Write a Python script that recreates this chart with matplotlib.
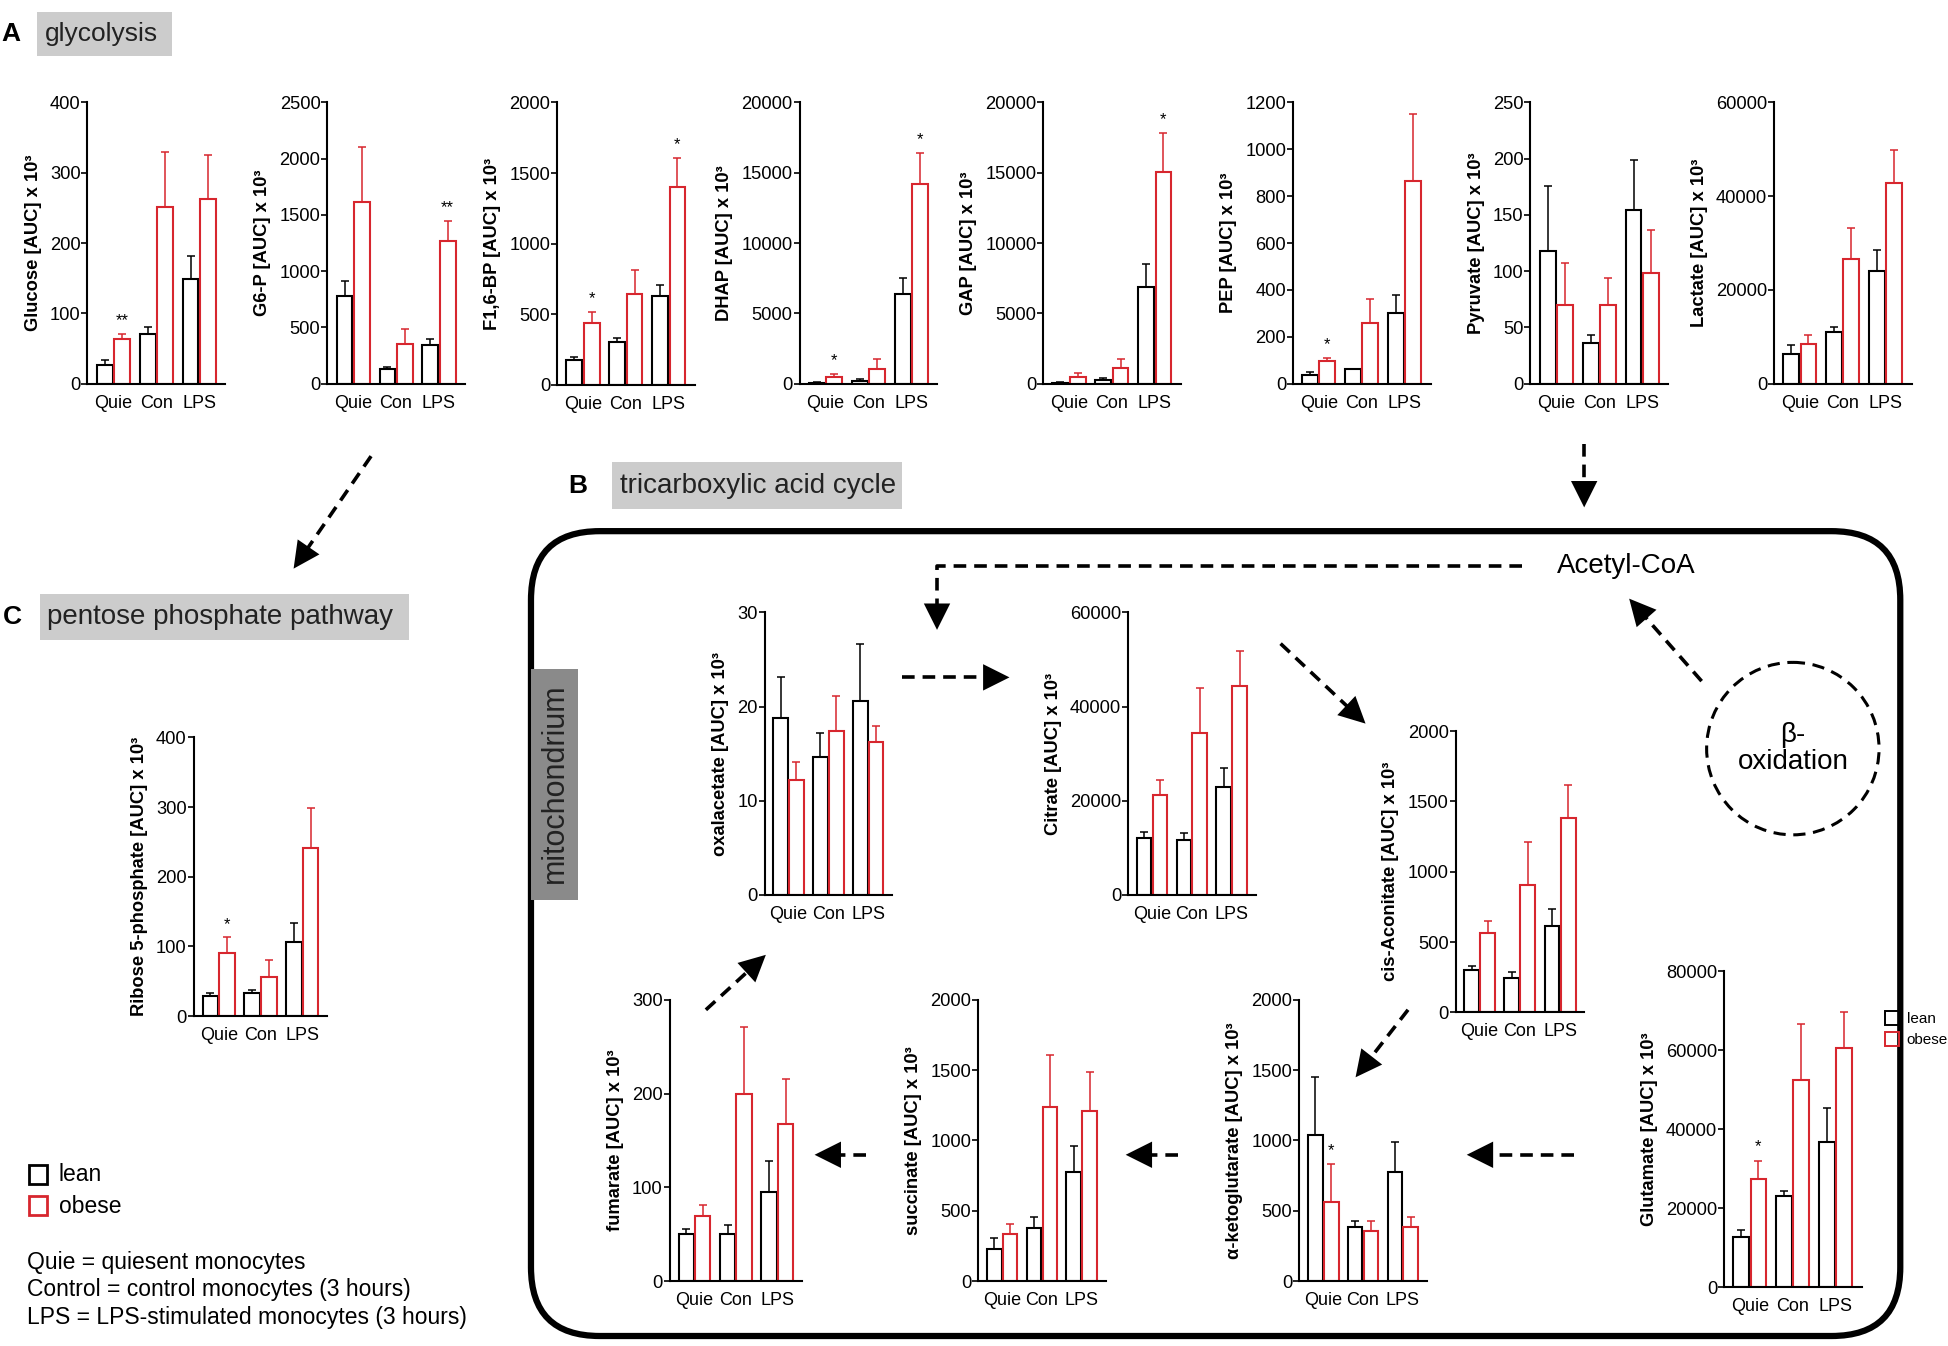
import numpy as np
import matplotlib
matplotlib.use('Agg')
import matplotlib.pyplot as plt
from matplotlib.patches import Rectangle, FancyBboxPatch, Circle, FancyArrowPatch
from matplotlib.lines import Line2D

plt.rcParams['font.family'] = ['Liberation Sans', 'DejaVu Sans']

groups = ['Quie', 'Con', 'LPS']
RED = '#d7262e'

# ---- data (mean, SEM) ----
glucose_lean = [26, 70, 149];        glucose_lean_sem = [8, 11, 32]
glucose_obese = [64, 251, 263];      glucose_obese_sem = [7, 78, 62]
g6p_lean = [778, 133, 346];          g6p_lean_sem = [139, 15, 54]
g6p_obese = [1612, 349, 1266];       g6p_obese_sem = [488, 133, 181]
f16bp_lean = [176, 301, 628];        f16bp_lean_sem = [24, 33, 83]
f16bp_obese = [442, 642, 1405];      f16bp_obese_sem = [76, 174, 204]
dhap_lean = [70, 190, 6358];         dhap_lean_sem = [50, 166, 1139]
dhap_obese = [475, 1068, 14187];     dhap_obese_sem = [237, 711, 2206]
gap_lean = [70, 237, 6880];          gap_lean_sem = [40, 143, 1613]
gap_obese = [498, 1091, 15065];      gap_obese_sem = [285, 688, 2776]
pep_lean = [37, 61, 300];            pep_lean_sem = [14, 3, 80]
pep_obese = [97, 259, 864];          pep_obese_sem = [14, 102, 287]
pyr_lean = [118, 36, 154];           pyr_lean_sem = [58, 7, 45]
pyr_obese = [70, 70, 98];            pyr_obese_sem = [37, 24, 39]
lac_lean = [6430, 10930, 24000];     lac_lean_sem = [1860, 1210, 4570]
lac_obese = [8430, 26640, 42860];    lac_obese_sem = [2000, 6640, 7000]
r5p_lean = [29, 33, 106];            r5p_lean_sem = [4, 5, 27]
r5p_obese = [91, 56, 241];           r5p_obese_sem = [22, 24, 57]
oaa_lean = [18.8, 14.6, 20.6];       oaa_lean_sem = [4.3, 2.6, 6.0]
oaa_obese = [12.2, 17.4, 16.2];      oaa_obese_sem = [1.9, 3.7, 1.7]
cit_lean = [12140, 11640, 22860];    cit_lean_sem = [1290, 1430, 4000]
cit_obese = [21210, 34290, 44290];   cit_obese_sem = [3220, 9710, 7500]
cis_lean = [298, 241, 616];          cis_lean_sem = [31, 48, 119]
cis_obese = [561, 907, 1379];        cis_obese_sem = [91, 305, 239]
akg_lean = [1038, 382, 776];         akg_lean_sem = [413, 48, 210]
akg_obese = [561, 356, 387];         akg_obese_sem = [272, 74, 69]
suc_lean = [230, 380, 772];          suc_lean_sem = [74, 74, 185]
suc_obese = [333, 1235, 1211];       suc_obese_sem = [71, 373, 278]
fum_lean = [50, 50, 95];             fum_lean_sem = [5, 10, 33]
fum_obese = [69, 199, 168];          fum_obese_sem = [12, 72, 48]
glu_lean = [12810, 23060, 36720];    glu_lean_sem = [1710, 1420, 8730]
glu_obese = [27330, 52470, 60540];   glu_obese_sem = [4650, 14240, 9200]

W, H = 1560., 1077.
fig = plt.figure(figsize=(19.49, 13.46), dpi=100)

# background axes in "reference pixel" units for the diagram
bg = fig.add_axes([0, 0, 1, 1], zorder=0)
bg.set_xlim(0, W)
bg.set_ylim(H, 0)
bg.axis('off')


def panel(l, r, t, b, lean, lean_sem, obese, obese_sem, ymax, step, label, stars=()):
    ax = fig.add_axes([l / W, 1 - b / H, (r - l) / W, (b - t) / H], zorder=2)
    ax.patch.set_alpha(0)
    x = np.arange(3)
    ekw = dict(elinewidth=1.1, capsize=3, capthick=1.1)
    ax.bar(x - 0.2, lean, 0.37, yerr=[np.zeros(3), lean_sem], facecolor='none',
           edgecolor='black', linewidth=1.5, error_kw=dict(ecolor='black', **ekw))
    ax.bar(x + 0.2, obese, 0.37, yerr=[np.zeros(3), obese_sem], facecolor='none',
           edgecolor=RED, linewidth=1.5, error_kw=dict(ecolor=RED, **ekw))
    for idx, txt in stars:
        ax.text(idx + 0.2, obese[idx] + obese_sem[idx] + ymax * 0.02, txt,
                ha='center', va='bottom', fontsize=12)
    ax.set_xlim(-0.6, 2.6)
    ax.set_ylim(0, ymax)
    ax.set_yticks(np.arange(0, ymax + step / 2, step))
    ax.set_xticks(x)
    ax.set_xticklabels(groups)
    ax.tick_params(axis='x', length=0, pad=8, labelsize=13)
    ax.tick_params(axis='y', length=4, width=1.2, pad=1, labelsize=13.2)
    for s in ['top', 'right']:
        ax.spines[s].set_visible(False)
    for s in ['left', 'bottom']:
        ax.spines[s].set_linewidth(1.5)
    ax.set_ylabel(label, fontsize=13.2, fontweight='bold', labelpad=6)
    return ax


# panel A
panel(70, 180, 82, 307, glucose_lean, glucose_lean_sem, glucose_obese, glucose_obese_sem, 400, 100,
      'Glucose [AUC] x 10³', [(0, '**')])
panel(262, 372, 82, 307, g6p_lean, g6p_lean_sem, g6p_obese, g6p_obese_sem, 2500, 500,
      'G6-P [AUC] x 10³', [(2, '**')])
panel(446, 556, 82, 308, f16bp_lean, f16bp_lean_sem, f16bp_obese, f16bp_obese_sem, 2000, 500,
      'F1,6-BP [AUC] x 10³', [(0, '*'), (2, '*')])
panel(640, 750, 82, 307, dhap_lean, dhap_lean_sem, dhap_obese, dhap_obese_sem, 20000, 5000,
      'DHAP [AUC] x 10³', [(0, '*'), (2, '*')])
panel(835, 945, 82, 307, gap_lean, gap_lean_sem, gap_obese, gap_obese_sem, 20000, 5000,
      'GAP [AUC] x 10³', [(2, '*')])
panel(1035, 1145, 82, 307, pep_lean, pep_lean_sem, pep_obese, pep_obese_sem, 1200, 200,
      'PEP [AUC] x 10³', [(0, '*')])
panel(1225, 1335, 82, 307, pyr_lean, pyr_lean_sem, pyr_obese, pyr_obese_sem, 250, 50,
      'Pyruvate [AUC] x 10³')
panel(1420, 1530, 82, 307, lac_lean, lac_lean_sem, lac_obese, lac_obese_sem, 60000, 20000,
      'Lactate [AUC] x 10³')

# panel C
panel(155, 262, 590, 813, r5p_lean, r5p_lean_sem, r5p_obese, r5p_obese_sem, 400, 100,
      'Ribose 5-phosphate [AUC] x 10³', [(0, '*')])

# panel B
panel(612, 714, 490, 716, oaa_lean, oaa_lean_sem, oaa_obese, oaa_obese_sem, 30, 10,
      'oxalacetate [AUC] x 10³')
panel(903, 1005, 490, 716, cit_lean, cit_lean_sem, cit_obese, cit_obese_sem, 60000, 20000,
      'Citrate [AUC] x 10³')
panel(1165, 1268, 585, 810, cis_lean, cis_lean_sem, cis_obese, cis_obese_sem, 2000, 500,
      'cis-Aconitate [AUC] x 10³')
panel(1040, 1142, 800, 1025, akg_lean, akg_lean_sem, akg_obese, akg_obese_sem, 2000, 500,
      'α-ketoglutarate [AUC] x 10³', [(0, '*')])
panel(783, 885, 800, 1025, suc_lean, suc_lean_sem, suc_obese, suc_obese_sem, 2000, 500,
      'succinate [AUC] x 10³')
panel(536, 642, 800, 1025, fum_lean, fum_lean_sem, fum_obese, fum_obese_sem, 300, 100,
      'fumarate [AUC] x 10³')
panel(1380, 1490, 777, 1030, glu_lean, glu_lean_sem, glu_obese, glu_obese_sem, 80000, 20000,
      'Glutamate [AUC] x 10³', [(0, '*')])

# ---- diagram ----
def header(letter, lx, text, x0, y0, w, h, fs):
    bg.text(lx, y0 + h / 2, letter, fontsize=19, fontweight='bold', ha='left', va='center')
    bg.add_patch(Rectangle((x0, y0), w, h, facecolor='#cccccc', edgecolor='none'))
    bg.text(x0 + 6, y0 + h / 2, text, fontsize=fs, ha='left', va='center', color='#222222')


header('A', 1, 'glycolysis', 30, 10, 108, 35, 19)
header('C', 2, 'pentose phosphate pathway', 32, 475, 295, 37, 20)
header('B', 455, 'tricarboxylic acid cycle', 490, 370, 232, 37, 20)

bg.add_patch(FancyBboxPatch((425, 425), 1096, 644, boxstyle='round,pad=0,rounding_size=55',
                            facecolor='none', edgecolor='black', linewidth=4.5))
bg.add_patch(Rectangle((425, 535), 38, 185, facecolor='#8a8a8a', edgecolor='none'))
bg.text(444, 627, 'mitochondrium', rotation=90, fontsize=22, color='#222222',
        ha='center', va='center')

bg.text(1302, 453, 'Acetyl-CoA', fontsize=20, ha='center', va='center')
bg.add_patch(Circle((1435, 599), 69, facecolor='none', edgecolor='black', linewidth=2.2,
                    linestyle=(0, (4, 2.5))))
bg.text(1435, 599, 'β-\noxidation', fontsize=20, ha='center', va='center', linespacing=1.05)


def darrow(pts, head=18):
    xs = [p[0] for p in pts]
    ys = [p[1] for p in pts]
    x0, y0 = xs[-2], ys[-2]
    x1, y1 = xs[-1], ys[-1]
    d = np.hypot(x1 - x0, y1 - y0)
    ux, uy = (x1 - x0) / d, (y1 - y0) / d
    xs[-1] = x1 - ux * (head - 2)
    ys[-1] = y1 - uy * (head - 2)
    bg.add_line(Line2D(xs, ys, color='black', linewidth=2.6, linestyle=(0, (3.5, 2.2))))
    bg.add_patch(FancyArrowPatch((x1 - ux * head, y1 - uy * head), (x1, y1),
                                 arrowstyle='-|>,head_length=1.9,head_width=0.95',
                                 mutation_scale=10, color='black', linewidth=0,
                                 shrinkA=0, shrinkB=0))


darrow([(297, 365), (235, 455)])
darrow([(1268, 355), (1268, 406)])
darrow([(1218, 453), (750, 453), (750, 504)])
darrow([(1362, 545), (1304, 479)])
darrow([(722, 542), (808, 542)])
darrow([(1025, 515), (1093, 579)])
darrow([(1127, 808), (1085, 862)])
darrow([(1260, 924), (1174, 924)])
darrow([(943, 924), (901, 924)])
darrow([(693, 924), (652, 924)])
darrow([(565, 808), (613, 764)])

# legends
bg.add_patch(Rectangle((23, 932), 15, 15, facecolor='none', edgecolor='black', linewidth=2))
bg.add_patch(Rectangle((23, 957), 15, 15, facecolor='none', edgecolor=RED, linewidth=2))
bg.text(47, 940, 'lean', fontsize=16.5, va='center')
bg.text(47, 965, 'obese', fontsize=16.5, va='center')
notes = ['Quie = quiesent monocytes',
         'Control = control monocytes (3 hours)',
         'LPS = LPS-stimulated monocytes (3 hours)']
for i, t in enumerate(notes):
    bg.text(22, 1010 + 22 * i, t, fontsize=16.5, va='center')

bg.add_patch(Rectangle((1509, 809), 11, 11, facecolor='none', edgecolor='black', linewidth=1.4))
bg.add_patch(Rectangle((1509, 826), 11, 11, facecolor='none', edgecolor=RED, linewidth=1.4))
bg.text(1526, 815, 'lean', fontsize=11, va='center')
bg.text(1526, 832, 'obese', fontsize=11, va='center')

fig.savefig('out.png', dpi=100)
